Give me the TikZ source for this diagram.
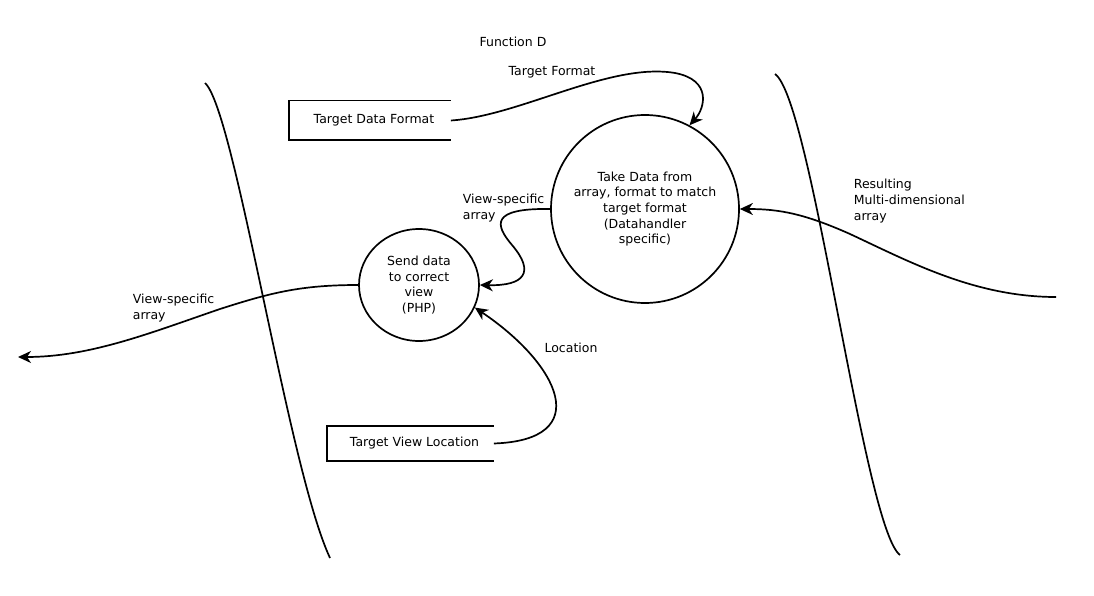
\documentclass[tikz,border=0pt]{standalone}
\usepackage{fontspec}
\setmainfont{DejaVu Sans}
\usetikzlibrary{arrows.meta, positioning, shapes.geometric}

\begin{document}
\begin{tikzpicture}[x=1pt, y=-1pt, line width=1.7pt,
  every node/.style={font=\fontsize{12.5}{15.6}\selectfont},
  proc/.style={draw, circle, inner sep=0pt, align=center},
  store/.style={inner sep=0pt, minimum height=38pt},
  flow/.style={-{Stealth[length=13pt,width=12pt,inset=4pt]}},
  lbl/.style={align=left, anchor=west, inner sep=0pt}]
  \useasboundingbox (0,0) rectangle (1094,596);
  % ---------- BOUNDARIES ----------
  \draw (205,83) .. controls (235,110) and (288,468) .. (330,558);
  \draw (775,74) .. controls (812,100) and (864,528) .. (900,555);
  \node (title) at (513,42) {Function D};
  % ---------- PROCESSES ----------
  \node[proc, minimum size=188pt] (take) at (645,209)
    {Take Data from\\array, format to match\\target format\\(Datahandler\\specific)};
  \node[draw, ellipse, minimum width=120pt, minimum height=112pt, inner sep=0pt,
        align=center] (send) at (419,285) {Send data\\ to correct\\view\\(PHP)};
  % ---------- STORES ----------
  \node[store, minimum width=160pt, xshift=4pt] (fmt) at (370,120.5) {Target Data Format};
  \draw ([xshift=-4pt]fmt.north east) -- ([xshift=-4pt]fmt.north west)
     -- ([xshift=-4pt]fmt.south west) -- ([xshift=-4pt]fmt.south east);
  \node[store, minimum width=165pt, minimum height=33pt, xshift=4pt] (loc) at (410.5,443.5) {Target View Location};
  \draw ([xshift=-4pt]loc.north east) -- ([xshift=-4pt]loc.north west)
     -- ([xshift=-4pt]loc.south west) -- ([xshift=-4pt]loc.south east);
  % ---------- FLOWS ----------
  \coordinate (viewout) at (18,357);
  \coordinate (resin) at (1056,297);
  \draw[flow] ([xshift=-4pt]fmt.east) .. controls (520,116) and (610,62) .. (675,73)
              .. controls (712,80) and (705,108) .. (take.62);
  \draw[flow] (take.west) .. controls (490,208) and (495,225) .. (512,245)
              .. controls (535,272) and (525,286) .. (send.east);
  \draw[flow] ([xshift=-4pt]loc.east) .. controls (595,440) and (560,365) .. (send.-22);
  \draw[flow] (send.west) .. controls (300,285) and (270,293) .. (220,309)
              .. controls (150,333) and (90,357) .. (viewout);
  \draw[flow] (resin) .. controls (975,297) and (910,262) .. (850,234)
              .. controls (805,214) and (780,209) .. (take.east);
  % ---------- LABELS ----------
  \node (fmtlbl) at (552,72) {Target Format};
  \node[lbl] (arrlbl) at (462,208) {View-specific\\array};
  \node (loclbl) at (571,348) {Location};
  \node[lbl] (outlbl) at (132,308) {View-specific\\array};
  \node[lbl] (reslbl) at (853,201) {Resulting\\Multi-dimensional\\array};
\end{tikzpicture}
\end{document}
